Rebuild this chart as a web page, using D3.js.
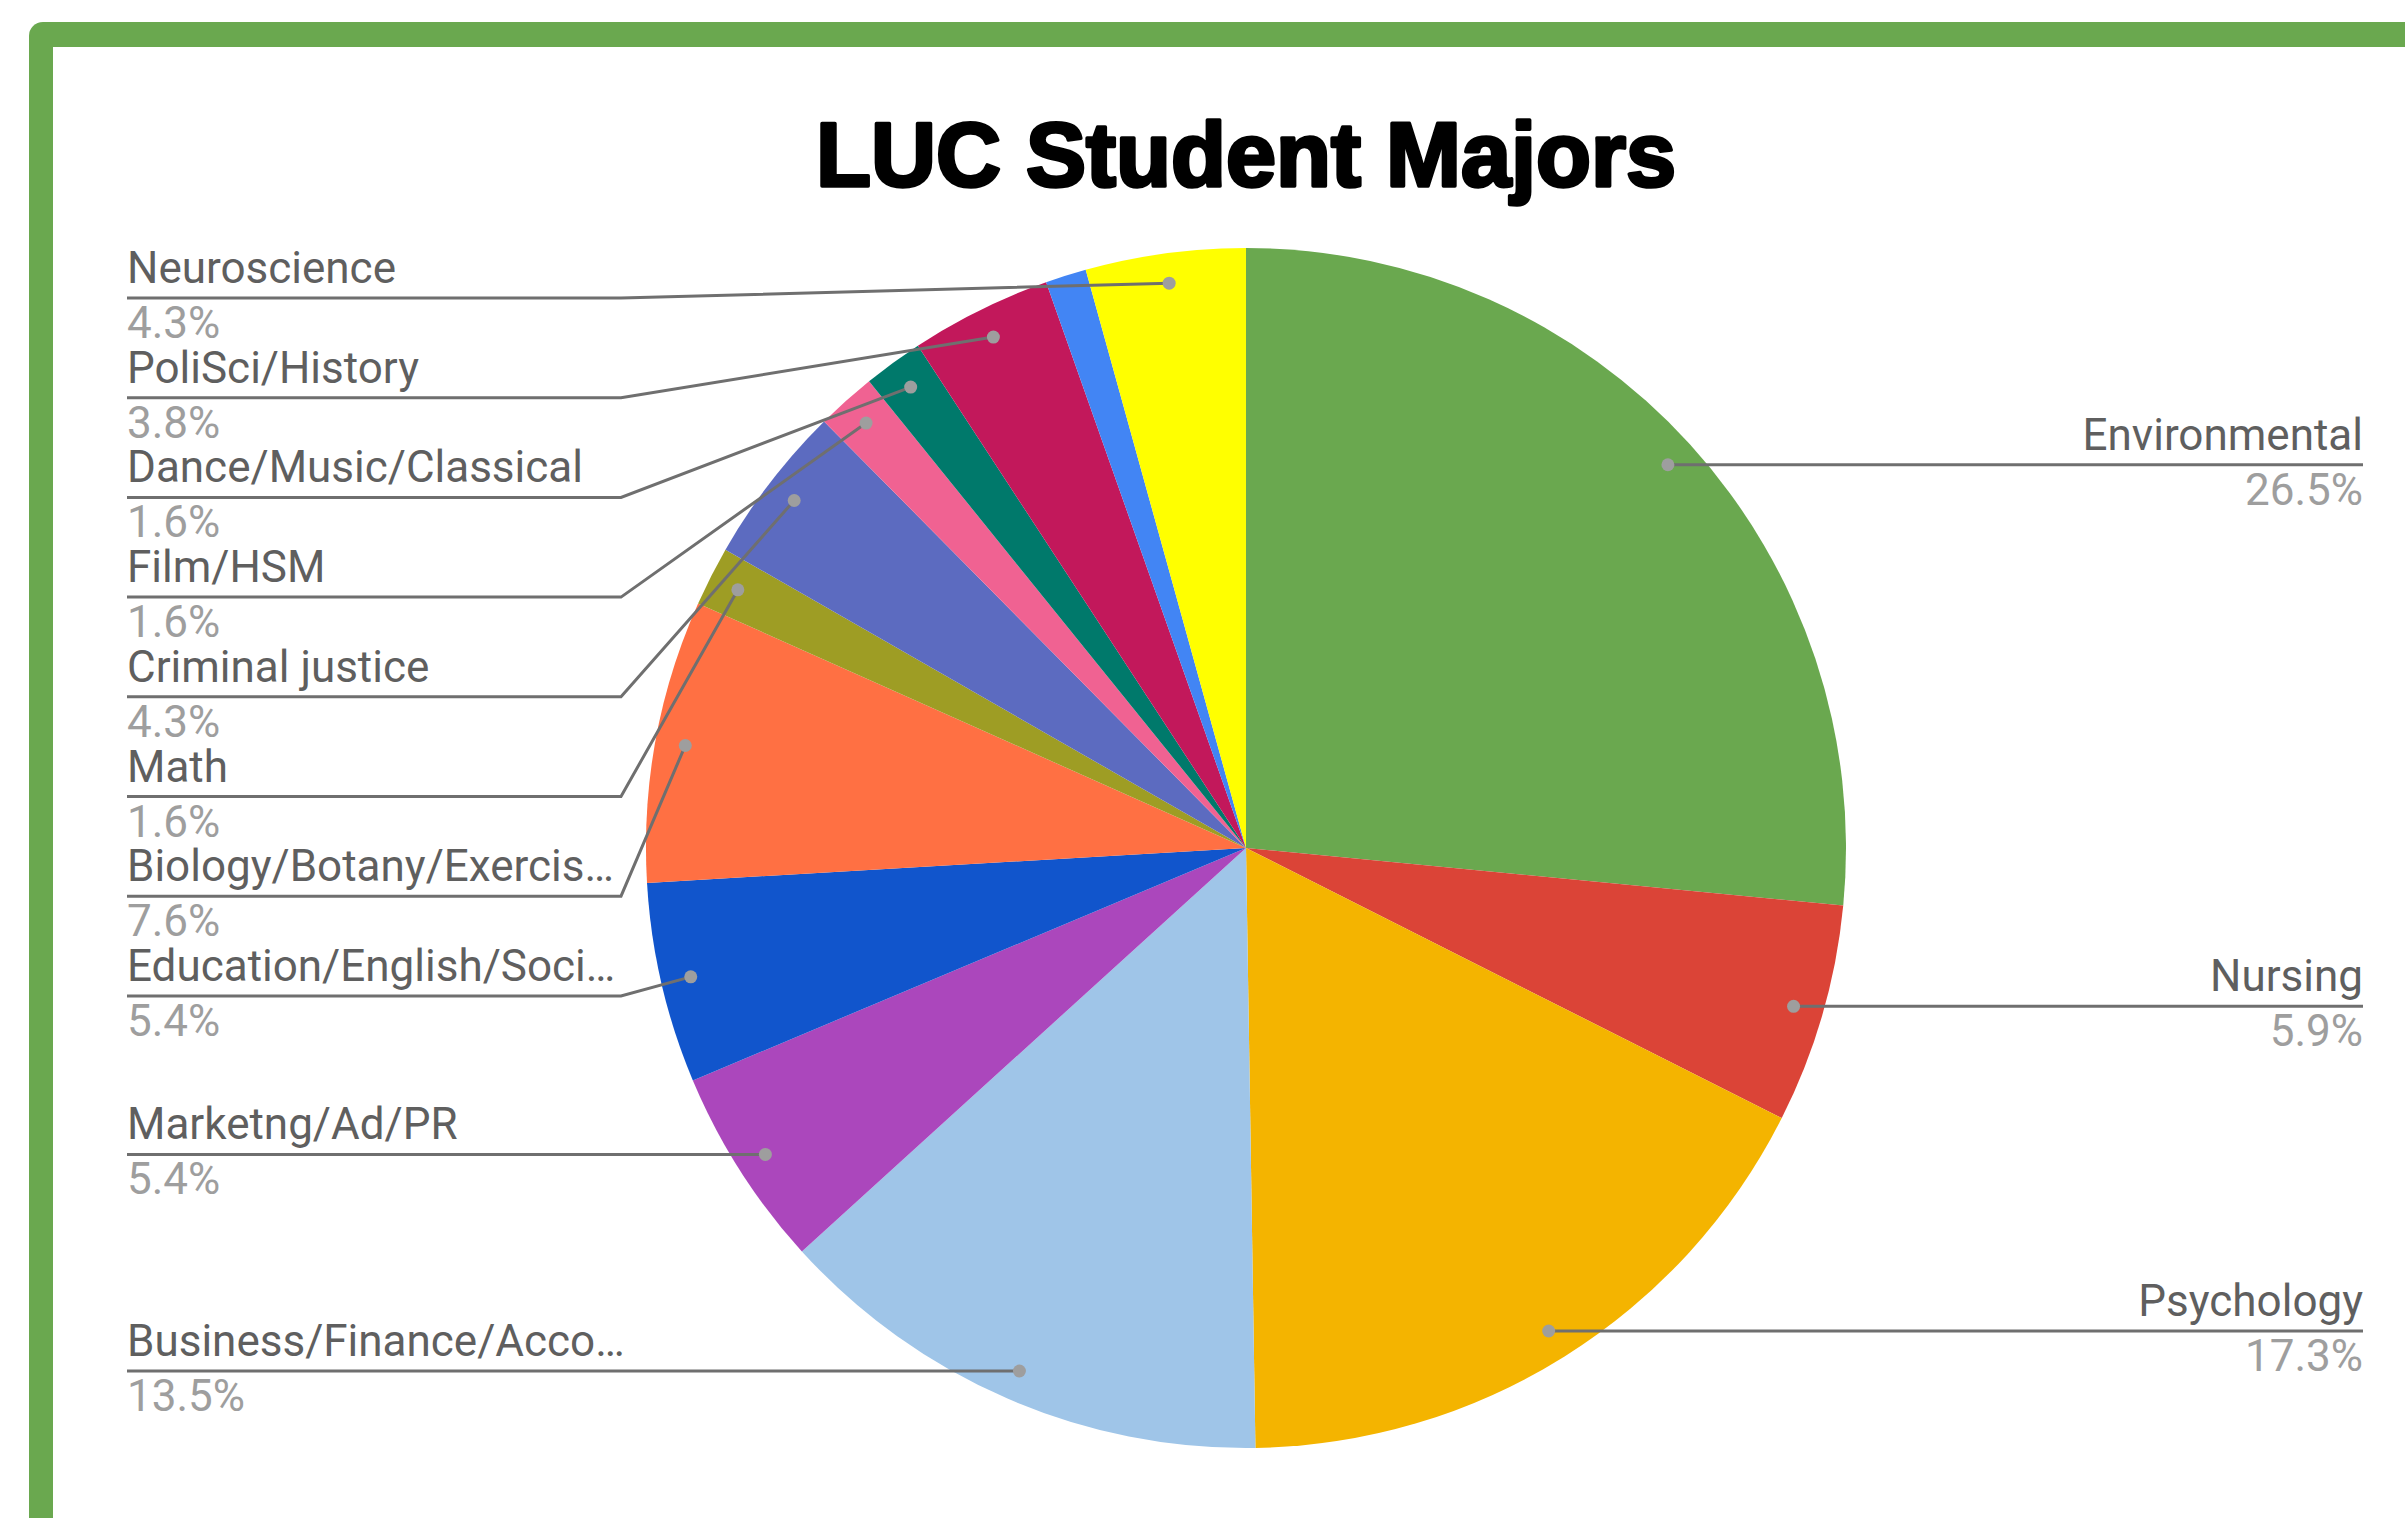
<!DOCTYPE html>
<html>
<head>
<meta charset="utf-8">
<script src="https://cdn.jsdelivr.net/npm/d3@7"></script>
<style>
  html, body { margin: 0; padding: 0; background: #ffffff; }
  svg { display: block; }
</style>
</head>
<body>
<svg id="chart" width="2405" height="1518"></svg>
<script>
// ---- data (clockwise from 12 o'clock) ----
const categories = [
  "Environmental", "Nursing", "Psychology", "Business/Finance/Acco\u2026",
  "Marketng/Ad/PR", "Education/English/Soci\u2026", "Biology/Botany/Exercis\u2026",
  "Math", "Criminal justice", "Film/HSM", "Dance/Music/Classical",
  "PoliSci/History", "Other", "Neuroscience"
];
const values = [26.5, 5.9, 17.3, 13.5, 5.4, 5.4, 7.6, 1.6, 4.3, 1.6, 1.6, 3.8, 1.1, 4.3];
const colors = [
  "#6aa84f", "#db4437", "#f4b400", "#9fc5e8", "#ab47bc", "#1155cc", "#ff7043",
  "#9e9d24", "#5c6bc0", "#f06292", "#00796b", "#c2185b", "#4285f4", "#ffff00"
];
const title = "LUC Student Majors";

// ---- layout ----
const W = 2405, H = 1518;
const cx = 1246, cy = 848, R = 600;
const dotR = R * 0.95;
const labelOffset = 1119;      // text edge distance from centre
const elbowOffset = 625;       // elbow distance from centre
const spacing = 99.7;          // min distance between label lines
const topBound = cy - R + 50;
const fontSize = 44;

const svg = d3.select("#chart");

// frame
svg.append("rect").attr("x", 29).attr("y", 22).attr("width", W + 40).attr("height", H + 40)
  .attr("rx", 14).attr("fill", "#6aa84f");
svg.append("rect").attr("x", 53).attr("y", 47).attr("width", W + 40).attr("height", H + 40)
  .attr("fill", "#ffffff");

// title
svg.append("text").attr("x", cx).attr("y", 186).attr("text-anchor", "middle")
  .attr("font-family", "'Liberation Sans', Arial, sans-serif").attr("font-weight", "bold")
  .attr("font-size", 90).attr("fill", "#000").attr("stroke", "#000").attr("stroke-width", 3.5)
  .attr("stroke-linejoin", "round")
  .text(title);

const data = categories.map((c, i) => ({ name: c, value: values[i], color: colors[i] }));
const total = d3.sum(values);

const pie = d3.pie().sort(null).value(d => d.value);
const arcs = pie(data);
const arc = d3.arc().innerRadius(0).outerRadius(R);

const g = svg.append("g").attr("transform", `translate(${cx},${cy})`);
g.selectAll("path.slice").data(arcs).enter().append("path")
  .attr("class", "slice").attr("d", arc).attr("fill", d => d.data.color);

// label anchors
const fmt = d3.format(".1f");
const labels = arcs.filter(d => d.data.value / total * 100 >= 1.5).map(d => {
  const a = (d.startAngle + d.endAngle) / 2;
  const x = cx + dotR * Math.sin(a), y = cy - dotR * Math.cos(a);
  return { d, a, x, y, side: a < Math.PI ? "right" : "left", ly: y };
});

["left", "right"].forEach(side => {
  const arr = labels.filter(l => l.side === side).sort((p, q) => p.y - q.y);
  let prev = topBound - spacing;
  arr.forEach(l => {
    l.ly = Math.max(l.y, prev + spacing);
    prev = l.ly;
  });
});

const lg = svg.append("g");
labels.forEach(l => {
  const left = l.side === "left";
  const textX = left ? cx - labelOffset : cx + labelOffset - 2;
  const elbowX = left ? cx - elbowOffset : cx + elbowOffset;
  const path = d3.path();
  path.moveTo(textX, l.ly);
  if (Math.abs(l.ly - l.y) > 0.5 && (left ? l.x > elbowX : l.x < elbowX)) {
    path.lineTo(elbowX, l.ly);
  }
  path.lineTo(l.x, l.y);
  lg.append("path").attr("d", path.toString()).attr("fill", "none")
    .attr("stroke", "#6f6f6f").attr("stroke-width", 3);
  lg.append("circle").attr("cx", l.x).attr("cy", l.y).attr("r", 6.5).attr("fill", "#9e9e9e");
  lg.append("text").attr("x", textX).attr("y", l.ly - 15)
    .attr("text-anchor", left ? "start" : "end")
    .attr("font-family", "Roboto, sans-serif").attr("font-size", fontSize)
    .attr("fill", "#5f5f5f").text(l.d.data.name);
  lg.append("text").attr("x", textX).attr("y", l.ly + 40)
    .attr("text-anchor", left ? "start" : "end")
    .attr("font-family", "Roboto, sans-serif").attr("font-size", fontSize)
    .attr("fill", "#9e9e9e").text(fmt(l.d.data.value / total * 100) + "%");
});
</script>
</body>
</html>
